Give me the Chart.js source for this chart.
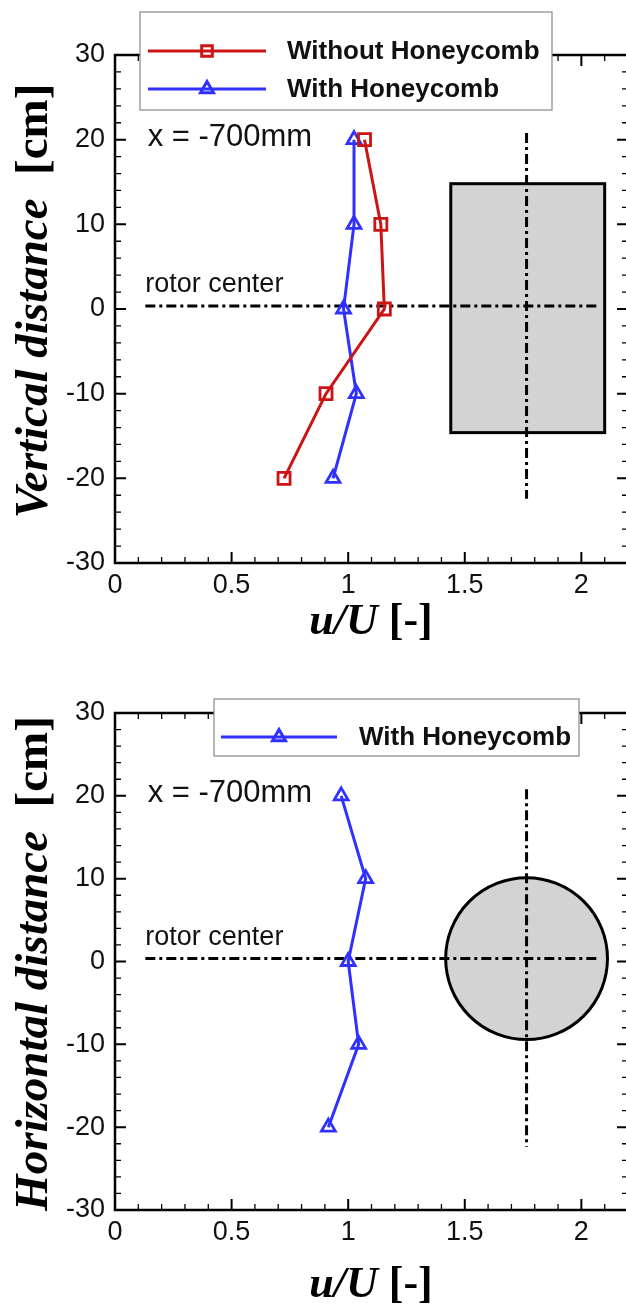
<!DOCTYPE html>
<html>
<head>
<meta charset="utf-8">
<script src="https://cdn.jsdelivr.net/npm/chart.js@4.4.0/dist/chart.umd.min.js"></script>
<style>
    html, body { margin: 0; padding: 0; background: #fff; overflow: hidden; }
    #wrap { position: relative; width: 626px; height: 1305px; overflow: hidden; }
    canvas { position: absolute; left: 0; }
    #topChart { top: 0; }
    #bottomChart { top: 658px; }
</style>
</head>
<body>
<div id="wrap">
    <canvas id="topChart" width="640" height="658"></canvas>
    <canvas id="bottomChart" width="640" height="647"></canvas>
</div>
<script>
// u/U profiles at x = -700mm
const heights = [20, 10, 0, -10, -20];
const vertWithout = [1.07, 1.14, 1.155, 0.905, 0.725];
const vertWith = [1.025, 1.025, 0.98, 1.035, 0.935];
const horizWith = [0.97, 1.075, 1.0, 1.045, 0.915];

const xTicks = [0, 0.5, 1, 1.5, 2];
const yTicks = [-30, -20, -10, 0, 10, 20, 30];

// rotor sketch, axis units
const rotorX = 1.765;
const rotorY = 0.35;
const rotorLineX = [0.13, 2.08];
const rotorAxisY = [-22.4, 20.8];
const rotorBoxX = [1.44, 2.10];
const rotorBoxY = [-14.6, 14.8];
const rotorRadius = 0.347;

const RED = '#cc1414';
const BLUE = '#3030ff';
const SANS = '"Liberation Sans", Arial, sans-serif';
const SERIF = '"Liberation Serif", "Times New Roman", serif';

function toPoints(values) {
    return values.map((v, i) => ({ x: v, y: heights[i] }));
}

function drawMarker(ctx, style, x, y, r) {
    ctx.beginPath();
    if (style === 'rect') {
        const s = r * Math.SQRT1_2;
        ctx.rect(x - s, y - s, 2 * s, 2 * s);
    } else {
        ctx.moveTo(x, y - r);
        ctx.lineTo(x + r * 0.87, y + r * 0.5);
        ctx.lineTo(x - r * 0.87, y + r * 0.5);
        ctx.closePath();
    }
    ctx.stroke();
}

// frame with inward major/minor ticks on all four sides
const framePlugin = {
    id: 'frame',
    beforeDatasetsDraw(chart) {
        const { ctx, chartArea: a, scales } = chart;
        const xs = scales.x, ys = scales.y;
        ctx.save();
        ctx.strokeStyle = '#000';
        ctx.lineWidth = 2.5;
        ctx.strokeRect(a.left, a.top, a.right - a.left, a.bottom - a.top);
        for (let i = 0; i <= 22; i++) {
            const v = i / 10;
            const px = xs.getPixelForValue(v);
            const len = i % 5 === 0 ? 11 : 6;
            ctx.lineWidth = i % 5 === 0 ? 2 : 1.3;
            ctx.beginPath();
            ctx.moveTo(px, a.bottom); ctx.lineTo(px, a.bottom - len);
            ctx.moveTo(px, a.top); ctx.lineTo(px, a.top + len);
            ctx.stroke();
        }
        for (let v = -30; v <= 30; v += 2) {
            const py = ys.getPixelForValue(v);
            const len = v % 10 === 0 ? 11 : 6;
            ctx.lineWidth = v % 10 === 0 ? 2 : 1.3;
            ctx.beginPath();
            ctx.moveTo(a.left, py); ctx.lineTo(a.left + len, py);
            ctx.moveTo(a.right, py); ctx.lineTo(a.right - len, py);
            ctx.stroke();
        }
        ctx.restore();
    }
};

// rotor outline plus its dash-dot centre lines
const rotorPlugin = {
    id: 'rotor',
    beforeDatasetsDraw(chart, args, opts) {
        const { ctx } = chart;
        const xs = chart.scales.x, ys = chart.scales.y;
        ctx.save();
        ctx.fillStyle = '#d3d3d3';
        ctx.strokeStyle = '#000';
        ctx.lineWidth = 3;
        if (opts.shape === 'box') {
            const x0 = xs.getPixelForValue(rotorBoxX[0]);
            const x1 = xs.getPixelForValue(rotorBoxX[1]);
            const y0 = ys.getPixelForValue(rotorBoxY[1]);
            const y1 = ys.getPixelForValue(rotorBoxY[0]);
            ctx.fillRect(x0, y0, x1 - x0, y1 - y0);
            ctx.strokeRect(x0, y0, x1 - x0, y1 - y0);
        } else {
            const cx = xs.getPixelForValue(rotorX);
            const r = xs.getPixelForValue(rotorX + rotorRadius) - cx;
            ctx.beginPath();
            ctx.arc(cx, ys.getPixelForValue(rotorY), r, 0, Math.PI * 2);
            ctx.fill();
            ctx.stroke();
        }
        ctx.setLineDash([10, 4, 3, 4]);
        ctx.lineWidth = 3;
        ctx.beginPath();
        ctx.moveTo(xs.getPixelForValue(rotorLineX[0]), ys.getPixelForValue(rotorY));
        ctx.lineTo(xs.getPixelForValue(rotorLineX[1]), ys.getPixelForValue(rotorY));
        ctx.moveTo(xs.getPixelForValue(rotorX), ys.getPixelForValue(rotorAxisY[1]));
        ctx.lineTo(xs.getPixelForValue(rotorX), ys.getPixelForValue(rotorAxisY[0]));
        ctx.stroke();
        ctx.setLineDash([]);

        ctx.fillStyle = '#111';
        ctx.textBaseline = 'middle';
        ctx.textAlign = 'left';
        ctx.font = '31px ' + SANS;
        ctx.fillText('x = -700mm', xs.getPixelForValue(0.14), ys.getPixelForValue(20.3));
        ctx.font = '27px ' + SANS;
        ctx.fillText('rotor center', xs.getPixelForValue(0.13), ys.getPixelForValue(2.9));
        ctx.restore();
    }
};

// axis titles with mixed italic / upright parts
const titlePlugin = {
    id: 'titles',
    afterDraw(chart, args, opts) {
        const { ctx, chartArea: a } = chart;
        ctx.save();
        ctx.fillStyle = '#000';
        ctx.textBaseline = 'alphabetic';
        ctx.textAlign = 'left';

        const drawParts = (parts, cx, y) => {
            let total = 0;
            parts.forEach(p => { ctx.font = p.font; total += ctx.measureText(p.text).width; });
            let x = cx - total / 2;
            parts.forEach(p => {
                ctx.font = p.font;
                ctx.fillText(p.text, x, y);
                x += ctx.measureText(p.text).width;
            });
        };

        drawParts([
            { text: 'u/U', font: 'italic bold 44px ' + SERIF },
            { text: ' [-]', font: 'bold 44px ' + SERIF }
        ], 371, opts.xTitleY);

        ctx.translate(opts.yTitleX, (a.top + a.bottom) / 2 + opts.yTitleShift);
        ctx.rotate(-Math.PI / 2);
        drawParts([
            { text: opts.yTitle, font: 'italic bold 47px ' + SERIF },
            { text: '  [cm]', font: 'bold 47px ' + SERIF }
        ], 0, 0);
        ctx.restore();
    }
};

// boxed legend laid over the top frame line
const boxLegendPlugin = {
    id: 'boxLegend',
    afterDraw(chart, args, opts) {
        const { ctx } = chart;
        const b = opts.box;
        ctx.save();
        ctx.fillStyle = '#fff';
        ctx.fillRect(b[0], b[1], b[2] - b[0], b[3] - b[1]);
        ctx.strokeStyle = '#888';
        ctx.lineWidth = 1.2;
        ctx.strokeRect(b[0], b[1], b[2] - b[0], b[3] - b[1]);
        chart.data.datasets.forEach((ds, i) => {
            const y = opts.rows[i];
            ctx.strokeStyle = ds.borderColor;
            ctx.lineWidth = 3;
            ctx.beginPath();
            ctx.moveTo(opts.line[0], y);
            ctx.lineTo(opts.line[1], y);
            ctx.stroke();
            drawMarker(ctx, ds.pointStyle, (opts.line[0] + opts.line[1]) / 2, y, 7.5);
            ctx.fillStyle = '#111';
            ctx.font = 'bold 26px ' + SANS;
            ctx.textBaseline = 'middle';
            ctx.fillText(ds.label, opts.textX, y + 1);
        });
        ctx.restore();
    }
};

function seriesStyle(color, style, radius) {
    return {
        borderColor: color,
        backgroundColor: color,
        borderWidth: 3,
        pointStyle: style,
        pointRadius: radius,
        pointBorderWidth: 2.8,
        pointBackgroundColor: 'rgba(255,255,255,0)',
        pointBorderColor: color,
        tension: 0,
        showLine: true,
        fill: false
    };
}

function buildOptions(extra) {
    return {
        responsive: false,
        animation: false,
        events: [],
        layout: { padding: { top: 55, right: 12, left: 0, bottom: 0 } },
        plugins: Object.assign({ legend: { display: false }, tooltip: { enabled: false } }, extra),
        scales: {
            x: {
                type: 'linear', min: 0, max: 2.2,
                afterFit(s) { s.height = 95; },
                afterBuildTicks(s) { s.ticks = xTicks.map(v => ({ value: v })); },
                grid: { display: false, drawTicks: false },
                border: { display: false },
                ticks: {
                    color: '#111', padding: 6,
                    font: { family: SANS, size: 27 },
                    callback: v => String(v)
                }
            },
            y: {
                type: 'linear', min: -30, max: 30,
                afterFit(s) { s.width = 115; },
                afterBuildTicks(s) { s.ticks = yTicks.map(v => ({ value: v })); },
                grid: { display: false, drawTicks: false },
                border: { display: false },
                ticks: {
                    color: '#111', padding: 10,
                    font: { family: SANS, size: 27 },
                    callback: v => String(v)
                }
            }
        }
    };
}

new Chart(document.getElementById('topChart'), {
    type: 'scatter',
    data: {
        datasets: [
            Object.assign({ label: 'Without Honeycomb', data: toPoints(vertWithout) }, seriesStyle(RED, 'rect', 8.5)),
            Object.assign({ label: 'With Honeycomb', data: toPoints(vertWith) }, seriesStyle(BLUE, 'triangle', 8))
        ]
    },
    options: buildOptions({
        rotor: { shape: 'box' },
        titles: { yTitle: 'Vertical distance', xTitleY: 634, yTitleX: 47, yTitleShift: -8 },
        boxLegend: { box: [140, 12, 552, 110], rows: [51, 89], line: [148, 266], textX: 287 }
    }),
    plugins: [framePlugin, rotorPlugin, titlePlugin, boxLegendPlugin]
});

new Chart(document.getElementById('bottomChart'), {
    type: 'scatter',
    data: {
        datasets: [
            Object.assign({ label: 'With Honeycomb', data: toPoints(horizWith) }, seriesStyle(BLUE, 'triangle', 8))
        ]
    },
    options: buildOptions({
        rotor: { shape: 'circle' },
        titles: { yTitle: 'Horizontal distance', xTitleY: 639, yTitleX: 47, yTitleShift: 2 },
        boxLegend: { box: [214, 41, 579, 98], rows: [79], line: [221, 337], textX: 359 }
    }),
    plugins: [framePlugin, rotorPlugin, titlePlugin, boxLegendPlugin]
});
</script>
</body>
</html>
